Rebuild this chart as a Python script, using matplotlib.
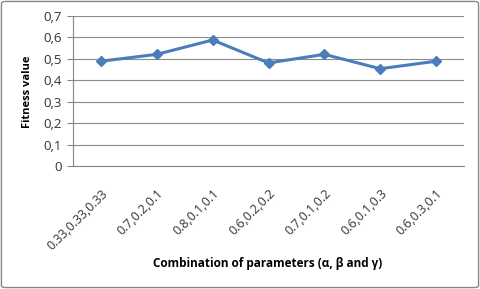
import matplotlib.pyplot as plt
from matplotlib.patches import FancyBboxPatch

combos = ["0.33,0.33,0.33", "0.7,0.2,0.1", "0.8,0.1,0.1", "0.6,0.2,0.2",
          "0.7,0.1,0.2", "0.6,0.1,0.3", "0.6,0.3,0.1"]
fitness = [0.489, 0.521, 0.588, 0.481, 0.521, 0.454, 0.489]
yticks = [0, 0.1, 0.2, 0.3, 0.4, 0.5, 0.6, 0.7]
ylabels = ["0", "0,1", "0,2", "0,3", "0,4", "0,5", "0,6", "0,7"]

plt.rcParams['font.family'] = ['Open Sans', 'DejaVu Sans']

fig = plt.figure(figsize=(4.8, 2.89), dpi=100)
ax = fig.add_axes([73 / 480, 1 - 166 / 289, 391 / 480, 150 / 289])

x = list(range(len(combos)))
ax.plot(x, fitness, color="#4a7ebb", lw=2.2, marker="D", ms=5.5,
        markeredgecolor="#4a7ebb", markerfacecolor="#4a7ebb")

ax.set_xlim(-0.5, len(combos) - 0.5)
ax.set_ylim(0, 0.7)
ax.set_yticks(yticks)
ax.set_yticklabels(ylabels, fontsize=9.5, color="#333333")
ax.set_xticks(x)
ax.set_xticklabels(combos, rotation=45, ha="right", rotation_mode="anchor",
                   fontsize=9, color="#333333")
ax.tick_params(axis="x", length=0, pad=15)
ax.tick_params(axis="y", length=4, color="#868686", width=0.8, pad=4)

ax.grid(axis="y", color="#8c8c8c", lw=0.8)
ax.set_axisbelow(True)
for s in ["top", "right"]:
    ax.spines[s].set_visible(False)
for s in ["left", "bottom"]:
    ax.spines[s].set_color("#868686")
    ax.spines[s].set_linewidth(0.8)

fig.text(27 / 480, 1 - 92 / 289, "Fitness value", rotation=90,
         ha="center", va="center", fontsize=8, fontweight="bold")
fig.text(268 / 480, 1 - 264 / 289, "Combination of parameters (\u03b1, \u03b2 and \u03b3)",
         ha="center", va="center", fontsize=8.5, fontweight="bold")

border = FancyBboxPatch((0.003, 0.005), 0.994, 0.99, boxstyle="round,pad=0,rounding_size=0.008",
                        transform=fig.transFigure, fill=False, edgecolor="#868686", lw=1)
fig.patches.append(border)

fig.savefig("out.png", dpi=100)
